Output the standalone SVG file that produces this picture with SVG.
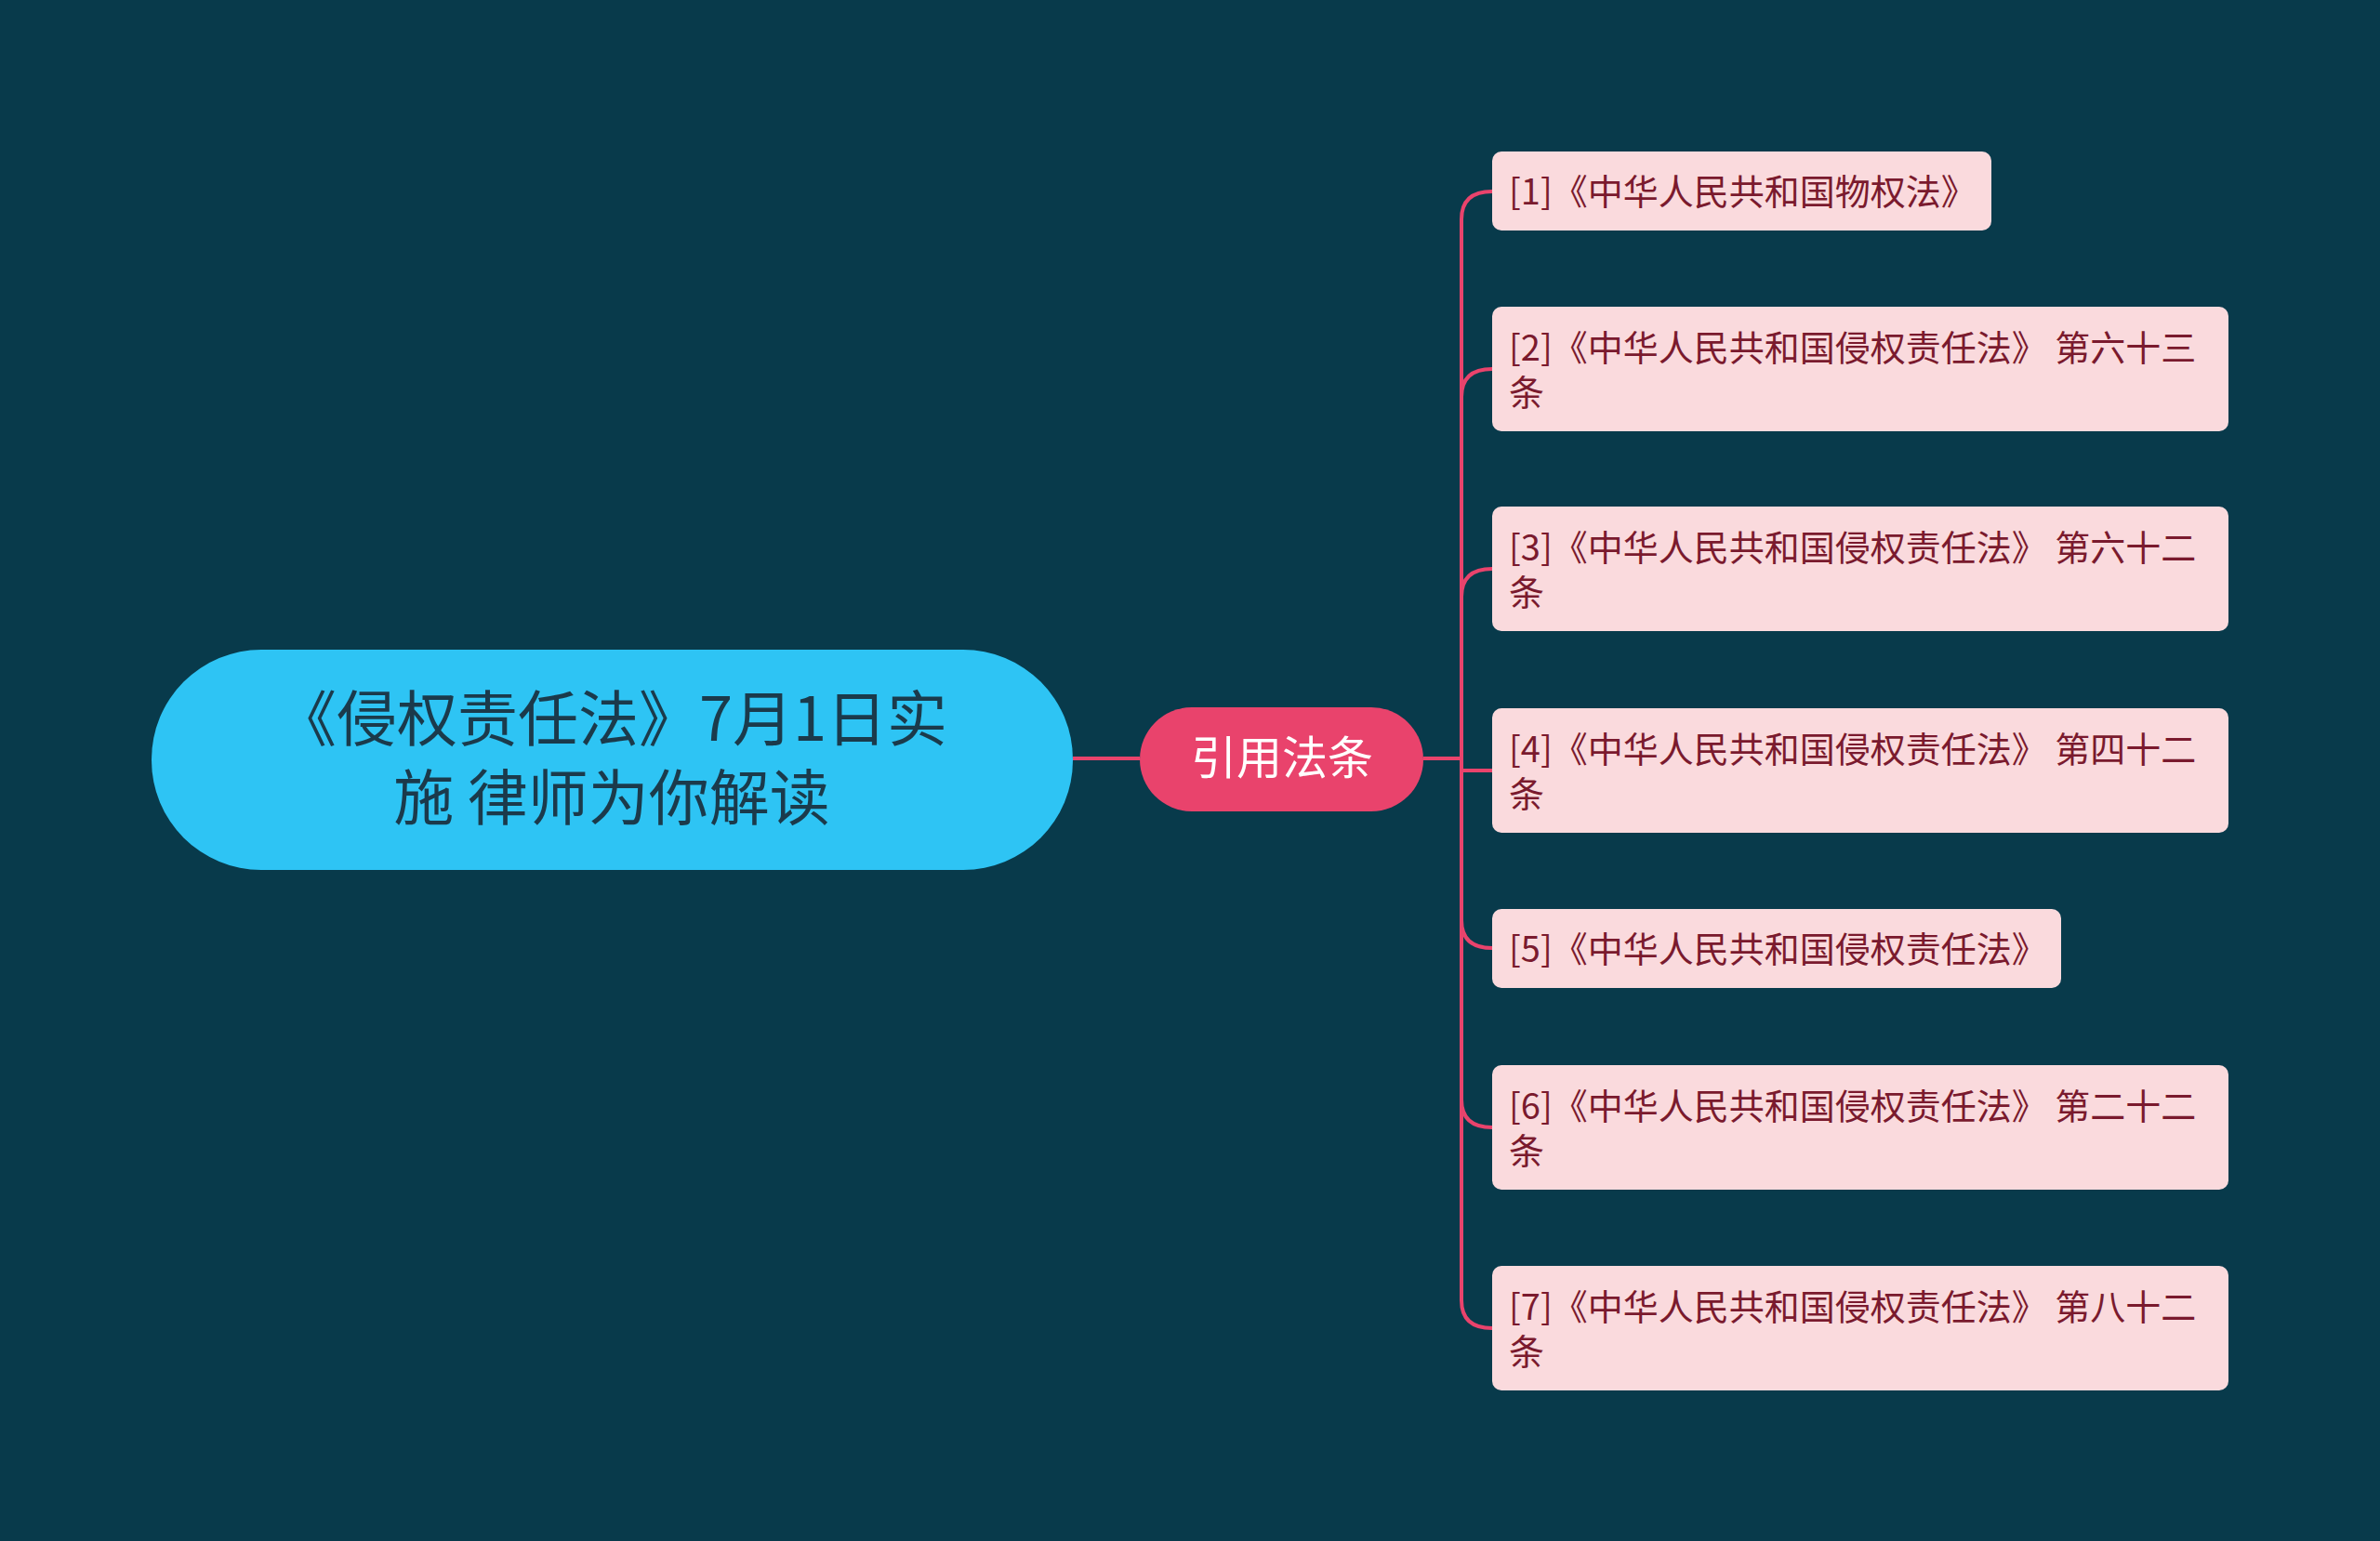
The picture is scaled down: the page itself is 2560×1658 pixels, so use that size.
<svg xmlns="http://www.w3.org/2000/svg" width="2560" height="1658" viewBox="0 0 2560 1658">
<style>
.c{fill:none;stroke:#E9436C;stroke-width:4}
.leaf{fill:#FADADD}
.lt{font-family:"Noto Sans CJK SC","Noto Sans",sans-serif;font-size:38px;fill:#7A1A2E}
</style>
<rect width="2560" height="1658" fill="#083A4B"/>
<g id="connectors">
<path class="c" d="M1154,816 H1226"/>
<path class="c" d="M1531,816 H1572"/>
<path class="c" d="M1572,816 V236 Q1572,206 1605,206"/>
<path class="c" d="M1572,816 V427 Q1572,397 1605,397"/>
<path class="c" d="M1572,816 V642 Q1572,612 1605,612"/>
<path class="c" d="M1572,816 V829 Q1572,829 1605,829"/>
<path class="c" d="M1572,816 V990 Q1572,1020 1605,1020"/>
<path class="c" d="M1572,816 V1183 Q1572,1213 1605,1213"/>
<path class="c" d="M1572,816 V1399 Q1572,1429 1605,1429"/>
</g>
<g id="root">
<rect x="163" y="699" width="991" height="237" rx="118" fill="#2EC4F4"/>
<text x="658" y="797" text-anchor="middle" font-family="Noto Sans CJK SC,sans-serif" font-size="65" fill="#1B3A4B">《侵权责任法》7月1日实</text>
<text x="658" y="882" text-anchor="middle" font-family="Noto Sans CJK SC,sans-serif" font-size="65" fill="#1B3A4B">施 律师为你解读</text>
</g>
<g id="mid">
<rect x="1226" y="761" width="305" height="112" rx="56" fill="#E9436C"/>
<text x="1379" y="833" text-anchor="middle" font-family="Noto Sans CJK SC,sans-serif" font-size="49" fill="#FFFFFF">引用法条</text>
</g>
<g id="n1"><rect class="leaf" x="1605" y="163" width="537" height="85" rx="10"/><text class="lt" x="1623" y="220">[1]《中华人民共和国物权法》</text></g>
<g id="n2"><rect class="leaf" x="1605" y="330" width="792" height="134" rx="10"/><text class="lt" x="1623" y="388">[2]《中华人民共和国侵权责任法》 第六十三</text><text class="lt" x="1623" y="436">条</text></g>
<g id="n3"><rect class="leaf" x="1605" y="545" width="792" height="134" rx="10"/><text class="lt" x="1623" y="603">[3]《中华人民共和国侵权责任法》 第六十二</text><text class="lt" x="1623" y="651">条</text></g>
<g id="n4"><rect class="leaf" x="1605" y="762" width="792" height="134" rx="10"/><text class="lt" x="1623" y="820">[4]《中华人民共和国侵权责任法》 第四十二</text><text class="lt" x="1623" y="868">条</text></g>
<g id="n5"><rect class="leaf" x="1605" y="978" width="612" height="85" rx="10"/><text class="lt" x="1623" y="1035">[5]《中华人民共和国侵权责任法》</text></g>
<g id="n6"><rect class="leaf" x="1605" y="1146" width="792" height="134" rx="10"/><text class="lt" x="1623" y="1204">[6]《中华人民共和国侵权责任法》 第二十二</text><text class="lt" x="1623" y="1252">条</text></g>
<g id="n7"><rect class="leaf" x="1605" y="1362" width="792" height="134" rx="10"/><text class="lt" x="1623" y="1420">[7]《中华人民共和国侵权责任法》 第八十二</text><text class="lt" x="1623" y="1468">条</text></g>
</svg>
